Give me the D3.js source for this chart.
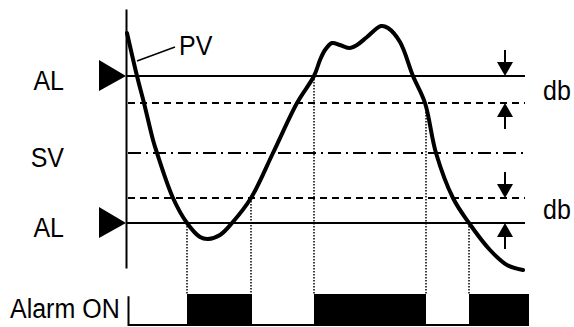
<!DOCTYPE html>
<html><head><meta charset="utf-8">
<script src="https://cdn.jsdelivr.net/npm/d3@7"></script>
<style>
html,body{margin:0;padding:0;background:#fff;}
svg{display:block;}
text{font-family:Arial,"Liberation Sans",sans-serif;fill:#000;}
</style></head>
<body>
<svg id="chart" width="574" height="327"></svg>
<script>
// ---- data (time t, value v) ----
const pvT = [1, 11, 18, 27, 31, 47, 61, 74, 82, 94, 106, 125, 147, 171, 188, 194, 199, 206, 214, 224, 231, 241, 255, 262, 274, 287, 299, 310, 327, 343, 364, 381, 397];
const pvV = [120, 77, 50, 13, 0, -45, -70, -84, -86, -82, -70, -45, 0, 50, 77, 93, 103, 110, 108, 105, 108, 116, 127, 125, 111, 77, 50, 0, -45, -70, -97, -112, -117];

const levelNames = ["AL", "", "SV", "", "AL"];
const levelValues = [77, 50, 0, -45, -70];
const levelStyles = ["solid", "dashed", "dashdot", "dashed", "solid"];

const alarmStart = [61, 188, 343];
const alarmEnd = [126, 300, 403];
const switchT = [61, 125, 188, 300, 343];
const switchV = [-70, -45, 77, 50, -70];

const dbUpper = [77, 50];
const dbLower = [-45, -70];
const dbLabel = "db";
const alarmLabel = "Alarm ON";
const pvLabel = "PV";

// ---- scales ----
const x = d3.scaleLinear().domain([0, 400]).range([126, 526]);
const y = d3.scaleLinear().domain([-115, 144]).range([268, 9]);
const ya = d3.scaleLinear().domain([0, 1]).range([325, 294]);

const svg = d3.select("#chart");
const FS = 25, SY = 1.12;
function label(txt, px, py, anchor) {
  svg.append("g").attr("transform", `translate(${px},${py}) scale(1,${SY})`)
    .append("text").attr("text-anchor", anchor || "start")
    .style("font-size", FS + "px").text(txt);
}

// vertical axis
const axis = svg.append("g").attr("transform", `translate(${x(0)},0)`)
  .call(d3.axisLeft(y).ticks(0).tickSizeOuter(0));
axis.select(".domain").attr("stroke", "#000").attr("stroke-width", 2);

// level lines
const dashMap = {solid: null, dashed: "7,5", dashdot: "13,5,2,5"};
levelValues.forEach((v, i) => {
  const st = levelStyles[i];
  svg.append("line")
    .attr("x1", st === "solid" ? x(0) : x(2)).attr("x2", x(399))
    .attr("y1", y(v)).attr("y2", y(v))
    .attr("stroke", "#000").attr("stroke-width", st === "solid" ? 2 : 1.8)
    .attr("stroke-dasharray", dashMap[st]);
});

// AL triangles
levelValues.forEach((v, i) => {
  if (levelNames[i] !== "AL") return;
  const tx = x(0), ty = y(v);
  svg.append("path")
    .attr("d", `M${tx - 27},${ty - 16}L${tx},${ty}L${tx - 27},${ty + 15}Z`)
    .attr("fill", "#000");
});

// level labels
levelValues.forEach((v, i) => {
  if (!levelNames[i]) return;
  label(levelNames[i], 64, y(v) + 14, "end");
});

// dotted switch lines
switchT.forEach((t, i) => {
  svg.append("line")
    .attr("x1", x(t)).attr("x2", x(t))
    .attr("y1", y(switchV[i])).attr("y2", ya(1))
    .attr("stroke", "#000").attr("stroke-width", 1.5)
    .attr("stroke-dasharray", "1.5,1.5");
});

// PV curve
const pts = pvT.map((t, i) => [t, pvV[i]]);
svg.append("path").datum(pts)
  .attr("d", d3.line().x(d => x(d[0])).y(d => y(d[1])).curve(d3.curveCatmullRom.alpha(0.5)))
  .attr("fill", "none").attr("stroke", "#000").attr("stroke-width", 4)
  .attr("stroke-linejoin", "round").attr("stroke-linecap", "round");

// PV leader + label
svg.append("line")
  .attr("x1", x(11)).attr("y1", y(92)).attr("x2", x(49)).attr("y2", y(106))
  .attr("stroke", "#000").attr("stroke-width", 1.5);
label(pvLabel, x(53), y(98));

// db arrows
const arrowT = 379;
function arrow(tipV, dir) { // dir = +1 pointing down, -1 pointing up
  const ax = x(arrowT), tip = y(tipV);
  const base = tip - dir * 14, end = tip - dir * 26;
  svg.append("line").attr("x1", ax).attr("x2", ax).attr("y1", end).attr("y2", base)
    .attr("stroke", "#000").attr("stroke-width", 2);
  svg.append("path").attr("d", `M${ax - 8},${base}L${ax + 8},${base}L${ax},${tip}Z`).attr("fill", "#000");
}
[dbUpper, dbLower].forEach(pair => {
  arrow(pair[0], 1);
  arrow(pair[1], -1);
});
label(dbLabel, 543, (y(dbUpper[0]) + y(dbUpper[1])) / 2 + 10);
label(dbLabel, 543, (y(dbLower[0]) + y(dbLower[1])) / 2 + 8);

// alarm output
alarmStart.forEach((s, i) => {
  svg.append("rect")
    .attr("x", x(s)).attr("width", x(alarmEnd[i]) - x(s))
    .attr("y", ya(1)).attr("height", ya(0) - ya(1)).attr("fill", "#000");
});
svg.append("path")
  .attr("d", `M${x(2.5)},${ya(0.93)}V${ya(0)}H${x(403)}`)
  .attr("fill", "none").attr("stroke", "#000").attr("stroke-width", 2);
label(alarmLabel, 10, 318);
</script>
</body></html>
